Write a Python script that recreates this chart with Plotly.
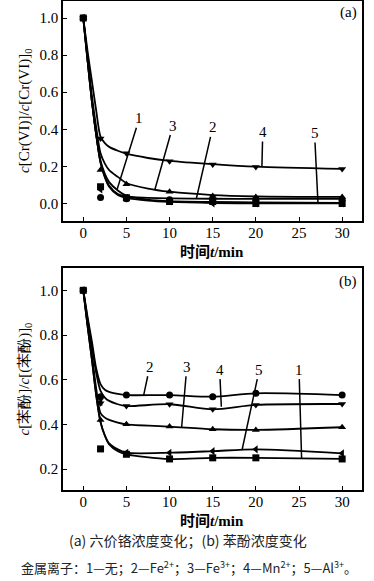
import plotly.graph_objects as go

# ---------------- data ----------------
t_meas = [0, 2, 5, 10, 15, 20, 30]
series_names = ["1", "2", "3", "4", "5"]   # 1-none, 2-Fe2+, 3-Fe3+, 4-Mn2+, 5-Al3+

# panel (a): c[Cr(VI)]/c[Cr(VI)]0 measured points
cr_1 = [1.0, 0.090, 0.030, 0.010, 0.010, 0.000, 0.000]
cr_2 = [1.0, 0.032, 0.025, 0.020, 0.020, 0.020, 0.020]
cr_3 = [1.0, 0.180, 0.104, 0.063, 0.040, 0.035, 0.035]
cr_4 = [1.0, 0.350, 0.270, 0.228, 0.210, 0.197, 0.185]
cr_5 = [1.0, 0.075, 0.030, 0.010, 0.000, 0.000, 0.000]

# panel (a): fitted curves
t_fit_a = [0, 0.5, 1, 1.5, 2, 2.5, 3, 4, 5, 7.5, 10, 15, 20, 30]
cr_fit_1 = [1.0, 0.77, 0.55, 0.37, 0.23, 0.16, 0.115, 0.07, 0.042, 0.020, 0.012, 0.008, 0.005, 0.003]
cr_fit_2 = [1.0, 0.77, 0.55, 0.37, 0.22, 0.145, 0.095, 0.050, 0.036, 0.030, 0.027, 0.025, 0.025, 0.025]
cr_fit_3 = [1.0, 0.79, 0.58, 0.41, 0.27, 0.215, 0.18, 0.143, 0.110, 0.080, 0.063, 0.045, 0.038, 0.035]
cr_fit_4 = [1.0, 0.82, 0.66, 0.50, 0.36, 0.325, 0.305, 0.284, 0.268, 0.245, 0.230, 0.212, 0.198, 0.186]
cr_fit_5 = [1.0, 0.77, 0.55, 0.37, 0.22, 0.14, 0.09, 0.045, 0.030, 0.015, 0.008, 0.002, 0.000, 0.000]

# panel (b): c[phenol]/c[phenol]0 measured points
ph_1 = [1.0, 0.290, 0.266, 0.245, 0.250, 0.250, 0.245]
ph_2 = [1.0, 0.524, 0.531, 0.531, 0.524, 0.539, 0.531]
ph_3 = [1.0, 0.419, 0.400, 0.390, 0.378, 0.375, 0.387]
ph_4 = [1.0, 0.494, 0.482, 0.490, 0.467, 0.487, 0.491]
ph_5 = [1.0, 0.500, 0.273, 0.273, 0.280, 0.288, 0.270]

# panel (b): fitted curves
t_fit_b = [0, 0.5, 1, 1.5, 2, 2.5, 3, 4, 5, 10, 15, 20, 30]
ph_fit_1 = [1.0, 0.84, 0.69, 0.53, 0.41, 0.35, 0.31, 0.28, 0.266, 0.245, 0.250, 0.250, 0.245]
ph_fit_2 = [1.0, 0.88, 0.77, 0.65, 0.58, 0.555, 0.545, 0.536, 0.531, 0.531, 0.524, 0.539, 0.531]
ph_fit_3 = [1.0, 0.85, 0.71, 0.56, 0.45, 0.43, 0.42, 0.408, 0.400, 0.390, 0.378, 0.375, 0.387]
ph_fit_4 = [1.0, 0.87, 0.75, 0.63, 0.55, 0.52, 0.505, 0.490, 0.482, 0.490, 0.467, 0.487, 0.491]
ph_fit_5 = [1.0, 0.84, 0.69, 0.53, 0.41, 0.35, 0.315, 0.288, 0.273, 0.273, 0.280, 0.288, 0.270]

x_ticks = [0, 5, 10, 15, 20, 25, 30]
ya_ticks = [0, 0.2, 0.4, 0.6, 0.8, 1.0]
yb_ticks = [0.2, 0.4, 0.6, 0.8, 1.0]

symbols = ["square", "circle", "triangle-up", "triangle-down", "triangle-left"]

# ---------------- figure ----------------
W, H = 374, 581
fig = go.Figure()

SERIF = "Liberation Serif, Times New Roman, serif"
CJK = "Noto Sans CJK SC"

pts_a = [cr_1, cr_2, cr_3, cr_4, cr_5]
fit_a = [cr_fit_1, cr_fit_2, cr_fit_3, cr_fit_4, cr_fit_5]
pts_b = [ph_1, ph_2, ph_3, ph_4, ph_5]
fit_b = [ph_fit_1, ph_fit_2, ph_fit_3, ph_fit_4, ph_fit_5]

for i in range(5):
    fig.add_trace(go.Scatter(x=t_fit_a, y=fit_a[i], mode="lines",
                             line=dict(color="black", width=1.8, shape="spline", smoothing=0.8),
                             xaxis="x", yaxis="y", showlegend=False, hoverinfo="skip"))
    fig.add_trace(go.Scatter(x=t_meas, y=pts_a[i], mode="markers", name=series_names[i],
                             marker=dict(symbol=symbols[i], size=7, color="black"),
                             xaxis="x", yaxis="y", showlegend=False))
for i in range(5):
    fig.add_trace(go.Scatter(x=t_fit_b, y=fit_b[i], mode="lines",
                             line=dict(color="black", width=1.8, shape="spline", smoothing=0.8),
                             xaxis="x2", yaxis="y2", showlegend=False, hoverinfo="skip"))
    fig.add_trace(go.Scatter(x=t_meas, y=pts_b[i], mode="markers", name=series_names[i],
                             marker=dict(symbol=symbols[i], size=7, color="black"),
                             xaxis="x2", yaxis="y2", showlegend=False))

def px_x(p):
    return p / W

def px_y(p):
    return 1 - p / H

xdom = [px_x(63), px_x(362)]
axis_common = dict(showline=True, linecolor="black", linewidth=1.5, mirror=True,
                   ticks="inside", ticklen=4, tickcolor="black", tickwidth=1,
                   showgrid=False, zeroline=False, automargin=False,
                   tickfont=dict(family=SERIF, size=15, color="black"))

xtitle = "<b>时间</b><span style='font-family:Liberation Serif'><b><i>t</i>/min</b></span>"

fig.update_layout(
    width=W, height=H,
    margin=dict(l=0, r=0, t=0, b=0, autoexpand=False),
    paper_bgcolor="white", plot_bgcolor="white",
    xaxis=dict(domain=xdom, range=[-2.35, 32.3], tickvals=x_ticks, anchor="y",
               ticklabelstandoff=-3, **axis_common),
    yaxis=dict(domain=[px_y(221), px_y(0.5)], range=[-0.095, 1.095], tickvals=ya_ticks,
               tickformat=".1f", anchor="x",
               title=dict(text="<i>c</i>[Cr(VI)]/<i>c</i>[Cr(VI)]<sub>0</sub>",
                          font=dict(family=SERIF, size=15, color="black"), standoff=6),
               **axis_common),
    xaxis2=dict(domain=xdom, range=[-2.35, 32.3], tickvals=x_ticks, anchor="y2",
                ticklabelstandoff=-3, **axis_common),
    yaxis2=dict(domain=[px_y(490), px_y(268)], range=[0.106, 1.10], tickvals=yb_ticks,
                tickformat=".1f", anchor="x2",
                title=dict(text="<i>c</i>[苯酚]/<i>c</i>[(苯酚)]<sub>0</sub>",
                           font=dict(family=SERIF, size=15, color="black"), standoff=6),
                **axis_common),
)

ann = []
lab_font = dict(family=SERIF, size=15, color="black")

# x-axis titles
for ypix in (250, 519):
    ann.append(dict(x=px_x(212), y=px_y(ypix), xref="paper", yref="paper", text=xtitle,
                    showarrow=False, font=dict(family=CJK, size=15, color="black"),
                    xanchor="center", yanchor="middle"))

# curve labels with pointer lines: (label, text x, text y, target x, target y)
labels_a = [("1", 6.5, 0.46, 3.9, 0.072), ("3", 10.4, 0.42, 8.3, 0.075),
            ("2", 15.0, 0.41, 13.1, 0.025), ("4", 20.8, 0.385, 20.7, 0.197),
            ("5", 26.8, 0.38, 27.2, 0.0)]
labels_b = [("2", 7.7, 0.658, 7.0, 0.531), ("3", 12.0, 0.658, 11.4, 0.387),
            ("4", 15.8, 0.645, 16.0, 0.479), ("5", 20.4, 0.645, 18.4, 0.285),
            ("1", 25.0, 0.645, 25.3, 0.247)]
for labels, xr, yr in [(labels_a, "x", "y"), (labels_b, "x2", "y2")]:
    for txt, tx, ty, px, py in labels:
        ann.append(dict(x=px, y=py, ax=tx, ay=ty, xref=xr, yref=yr, axref=xr, ayref=yr,
                        text=txt, showarrow=True, arrowhead=0, arrowwidth=1.5,
                        arrowcolor="black", font=lab_font, standoff=0, startstandoff=0))

ann.append(dict(x=px_x(348), y=px_y(13), xref="paper", yref="paper", text="(a)",
                showarrow=False, font=lab_font, xanchor="center", yanchor="middle"))
ann.append(dict(x=px_x(348), y=px_y(282), xref="paper", yref="paper", text="(b)",
                showarrow=False, font=lab_font, xanchor="center", yanchor="middle"))

ann.append(dict(x=px_x(188), y=px_y(540), xref="paper", yref="paper",
                text="(a) 六价铬浓度变化；(b) 苯酚浓度变化",
                showarrow=False, font=dict(family=CJK, size=14, color="#222"),
                xanchor="center", yanchor="middle"))
ann.append(dict(x=px_x(189), y=px_y(567), xref="paper", yref="paper",
                text="金属离子：1—无；2—Fe<sup>2+</sup>；3—Fe<sup>3+</sup>；4—Mn<sup>2+</sup>；5—Al<sup>3+</sup>。",
                showarrow=False, font=dict(family=CJK, size=13, color="#222"),
                xanchor="center", yanchor="middle"))

fig.update_layout(annotations=ann)
fig.write_html("out.html", config={"displayModeBar": False},
               post_script="document.body.style.margin='0';document.body.style.padding='0';")
